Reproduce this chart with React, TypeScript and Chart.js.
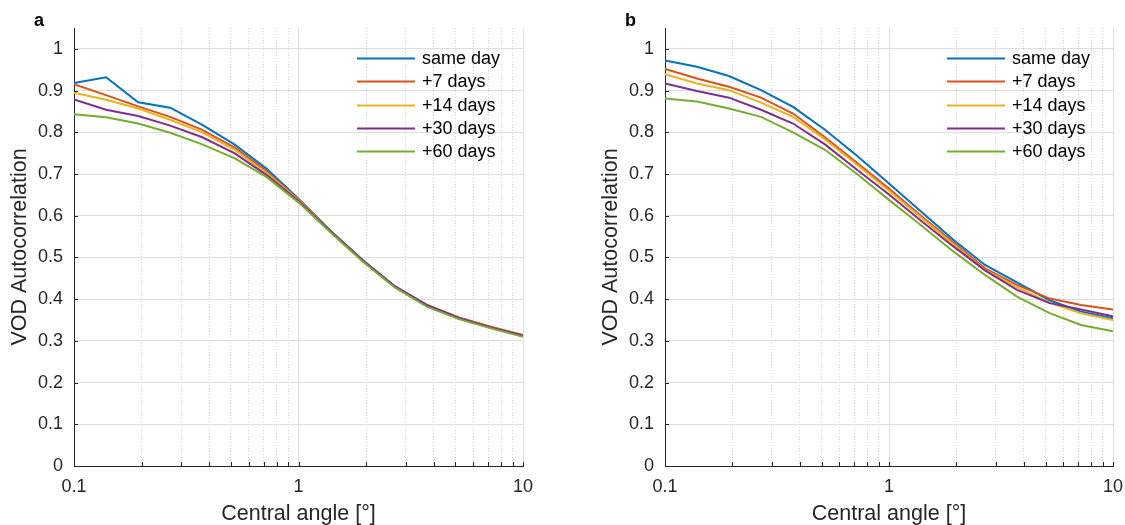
import React, { useEffect, useRef } from "react";
import { Chart, registerables } from "chart.js";

Chart.register(...registerables);
Chart.defaults.font.family = "'Liberation Sans', Arial, Helvetica, sans-serif";

// ---- data ----
const xValues = [0.1, 0.1389, 0.1931, 0.2683, 0.3728, 0.5179, 0.7197, 1, 1.3895, 1.9307, 2.6827, 3.7276, 5.1795, 7.1969, 10];

const seriesLabels = ["same day", "+7 days", "+14 days", "+30 days", "+60 days"];
const seriesColors = ["#0072BD", "#D95319", "#EDB120", "#7E2F8E", "#77AC30"];

const aSameDay = [0.918, 0.932, 0.872, 0.859, 0.818, 0.771, 0.713, 0.641, 0.564, 0.494, 0.431, 0.385, 0.354, 0.332, 0.313];
const aDays7 = [0.915, 0.889, 0.862, 0.837, 0.806, 0.764, 0.707, 0.639, 0.563, 0.493, 0.43, 0.386, 0.356, 0.334, 0.314];
const aDays14 = [0.895, 0.878, 0.857, 0.83, 0.8, 0.758, 0.703, 0.637, 0.562, 0.492, 0.43, 0.384, 0.354, 0.332, 0.312];
const aDays30 = [0.879, 0.854, 0.839, 0.816, 0.788, 0.75, 0.698, 0.635, 0.562, 0.493, 0.431, 0.386, 0.355, 0.332, 0.313];
const aDays60 = [0.843, 0.836, 0.821, 0.799, 0.771, 0.738, 0.693, 0.632, 0.56, 0.49, 0.428, 0.382, 0.352, 0.33, 0.31];

const bSameDay = [0.972, 0.957, 0.935, 0.901, 0.861, 0.806, 0.744, 0.677, 0.61, 0.543, 0.482, 0.44, 0.398, 0.37, 0.354];
const bDays7 = [0.952, 0.929, 0.909, 0.883, 0.845, 0.788, 0.727, 0.665, 0.6, 0.537, 0.474, 0.434, 0.402, 0.386, 0.375];
const bDays14 = [0.939, 0.917, 0.901, 0.871, 0.837, 0.783, 0.722, 0.66, 0.596, 0.532, 0.47, 0.429, 0.392, 0.366, 0.35];
const bDays30 = [0.917, 0.899, 0.883, 0.854, 0.821, 0.771, 0.71, 0.651, 0.588, 0.527, 0.469, 0.422, 0.391, 0.375, 0.359];
const bDays60 = [0.881, 0.874, 0.857, 0.837, 0.8, 0.758, 0.7, 0.638, 0.577, 0.515, 0.458, 0.406, 0.367, 0.338, 0.323];

const xTicks = [0.1, 0.2, 0.3, 0.4, 0.5, 0.6, 0.7, 0.8, 0.9, 1, 2, 3, 4, 5, 6, 7, 8, 9, 10];
const xMajor = [0.1, 1, 10];
const xTickLabels = ["0.1", "", "", "", "", "", "", "", "", "1", "", "", "", "", "", "", "", "", "10"];
const yTicks = [0, 0.1, 0.2, 0.3, 0.4, 0.5, 0.6, 0.7, 0.8, 0.9, 1];
const yTickLabels = ["0", "0.1", "0.2", "0.3", "0.4", "0.5", "0.6", "0.7", "0.8", "0.9", "1"];

const xTitle = "Central angle [°]";
const yTitle = "VOD Autocorrelation";

const FONT = "'Liberation Sans', Arial, Helvetica, sans-serif";
const AXIS = "#262626";

const insideLegend = {
  id: "insideLegend",
  afterDraw(chart: any) {
    const { ctx, chartArea } = chart;
    ctx.save();
    chart.data.datasets.forEach((ds: any, i: number) => {
      const y = Math.round(chartArea.top + 30.3 + i * 23.1) + 0.5;
      ctx.strokeStyle = ds.borderColor;
      ctx.lineWidth = 2;
      ctx.beginPath();
      ctx.moveTo(chartArea.right - 166, y);
      ctx.lineTo(chartArea.right - 108, y);
      ctx.stroke();
      ctx.fillStyle = "#000";
      ctx.font = `18px ${FONT}`;
      ctx.textBaseline = "middle";
      ctx.textAlign = "left";
      ctx.fillText(ds.label, chartArea.right - 101, y + 1);
    });
    ctx.restore();
  },
};

const innerTicks = {
  id: "innerTicks",
  afterDatasetsDraw(chart: any) {
    const { ctx, chartArea } = chart;
    const sx = chart.scales.x;
    const sy = chart.scales.y;
    ctx.save();
    ctx.strokeStyle = AXIS;
    ctx.lineWidth = 1;
    ctx.beginPath();
    sx.ticks.forEach((t: any) => {
      const px = Math.round(sx.getPixelForValue(t.value)) + 0.5;
      ctx.moveTo(px, chartArea.bottom);
      ctx.lineTo(px, chartArea.bottom - 4);
    });
    sy.ticks.forEach((t: any) => {
      const py = Math.round(sy.getPixelForValue(t.value)) + 0.5;
      ctx.moveTo(chartArea.left, py);
      ctx.lineTo(chartArea.left + 4, py);
    });
    ctx.stroke();
    ctx.restore();
  },
};

const panelLabel = {
  id: "panelLabel",
  afterDraw(chart: any, _args: any, opts: any) {
    const { ctx } = chart;
    ctx.save();
    ctx.fillStyle = "#000";
    ctx.font = `bold 18px ${FONT}`;
    ctx.textBaseline = "alphabetic";
    ctx.textAlign = "left";
    ctx.fillText(opts.text, 34, 26);
    ctx.restore();
  },
};

function Panel({ left, width, rightPad, label, series }: any) {
  const ref = useRef<HTMLCanvasElement | null>(null);
  useEffect(() => {
    if (!ref.current) return;
    const datasets = series.map((vals: number[], i: number) => ({
      label: seriesLabels[i],
      data: xValues.map((x, j) => ({ x, y: vals[j] })),
      borderColor: seriesColors[i],
      backgroundColor: seriesColors[i],
      borderWidth: 2,
      pointRadius: 0,
      tension: 0,
      fill: false,
      order: series.length - i,
    }));
    const chart = new Chart(ref.current, {
      type: "line",
      data: { datasets },
      plugins: [innerTicks, insideLegend, panelLabel],
      options: {
        responsive: false,
        animation: false,
        events: [],
        layout: { padding: { left: 0, right: rightPad, top: 28, bottom: 0 } },
        plugins: {
          legend: { display: false },
          tooltip: { enabled: false },
          title: { display: false },
          panelLabel: { text: label },
        } as any,
        scales: {
          x: {
            type: "logarithmic",
            min: 0.1,
            max: 10,
            afterBuildTicks: (scale: any) => {
              scale.ticks = xTicks.map((v) => ({ value: v, major: xMajor.includes(v) }));
            },
            afterFit: (scale: any) => {
              scale.height = 59;
              scale.paddingLeft = 0;
              scale.paddingRight = 0;
            },
            ticks: {
              autoSkip: false,
              maxRotation: 0,
              minRotation: 0,
              padding: 10,
              color: AXIS,
              font: { size: 18, family: FONT },
              callback: (_v: any, i: number) => xTickLabels[i],
            },
            grid: {
              drawTicks: false,
              lineWidth: 1,
              color: (ctx: any) => {
                const v = ctx.tick ? ctx.tick.value : null;
                if (v === 0.1) return "rgba(0,0,0,0)";
                return xMajor.includes(v) ? "#dedede" : "#d6d6d6";
              },
            },
            border: {
              display: true,
              color: AXIS,
              width: 1,
              dash: (ctx: any) => {
                const v = ctx.tick ? ctx.tick.value : null;
                return v !== null && !xMajor.includes(v) ? [1, 2] : [];
              },
            },
            title: {
              display: true,
              text: xTitle,
              color: AXIS,
              font: { size: 21.5, family: FONT },
              padding: { top: 0, bottom: -2 },
            },
          } as any,
          y: {
            type: "linear",
            min: 0,
            max: 1.05,
            afterBuildTicks: (scale: any) => {
              scale.ticks = yTicks.map((v) => ({ value: v }));
            },
            afterFit: (scale: any) => {
              scale.width = 74;
              scale.paddingTop = 0;
              scale.paddingBottom = 0;
            },
            ticks: {
              padding: 11,
              color: AXIS,
              font: { size: 18, family: FONT },
              callback: (_v: any, i: number) => yTickLabels[i],
            },
            grid: {
              drawTicks: false,
              lineWidth: 1,
              color: (ctx: any) => (ctx.tick && ctx.tick.value === 0 ? "rgba(0,0,0,0)" : "#dedede"),
            },
            border: { display: true, color: AXIS, width: 1 },
            title: {
              display: true,
              text: yTitle,
              color: AXIS,
              font: { size: 21.5, family: FONT },
              padding: { top: 7, bottom: 0 },
            },
          } as any,
        },
      },
    });
    return () => chart.destroy();
  }, []);
  return (
    <canvas
      ref={ref}
      width={width}
      height={525}
      style={{ position: "absolute", left, top: 0, width, height: 525 }}
    />
  );
}

export default function App() {
  return (
    <div style={{ position: "absolute", left: 0, top: 0, width: 1125, height: 525, background: "#fff", overflow: "hidden" }}>
      <Panel left={0} width={562} rightPad={39} label="a" series={[aSameDay, aDays7, aDays14, aDays30, aDays60]} />
      <Panel left={591} width={534} rightPad={12} label="b" series={[bSameDay, bDays7, bDays14, bDays30, bDays60]} />
    </div>
  );
}
